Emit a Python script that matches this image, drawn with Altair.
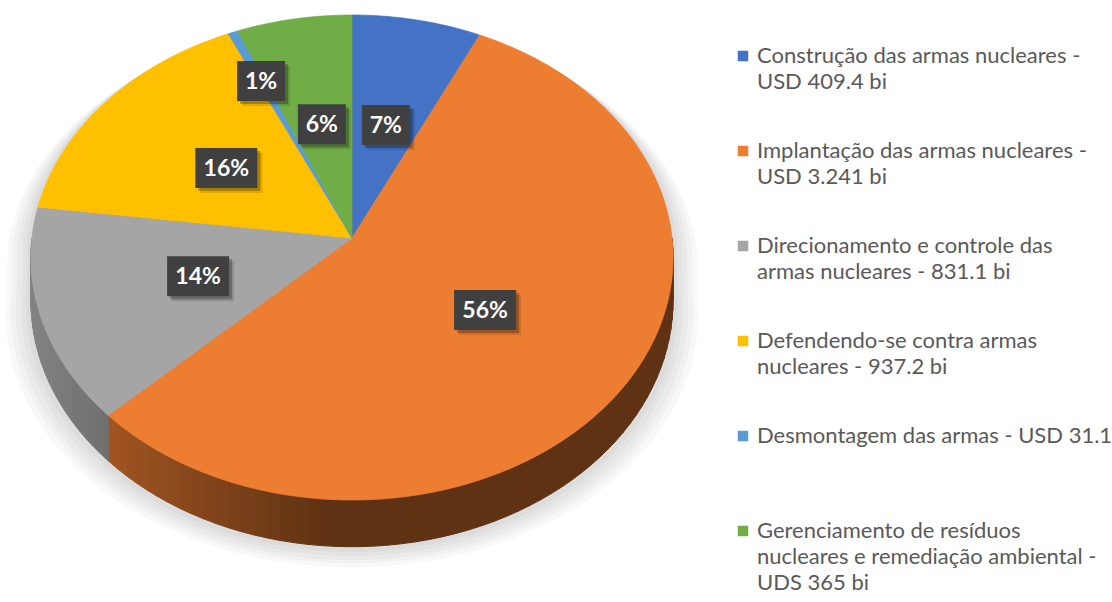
import altair as alt
import pandas as pd

# ---------------- data ----------------
legend_labels = [
    "Construção das armas nucleares -\nUSD 409.4 bi",
    "Implantação das armas nucleares -\nUSD 3.241 bi",
    "Direcionamento e controle das\narmas nucleares - 831.1 bi",
    "Defendendo-se contra armas\nnucleares - 937.2 bi",
    "Desmontagem das armas - USD 31.1",
    "Gerenciamento de resíduos\nnucleares e remediação ambiental -\nUDS 365 bi",
]
values = [409.4, 3241.0, 831.1, 937.2, 31.1, 365.0]
colors = ["#4472C4", "#ED7D31", "#A5A5A5", "#FFC000", "#5B9BD5", "#70AD47"]

# ---------------- layout / style ----------------
W, H = 1112, 602
CX, CY, RX, RY, P, DEPTH = 352, 238, 320, 240.9, 0.0804, 43
N = 120   # arc resolution of each top slice
M = 60    # rim pieces per slice
LY0, LDY = 63, 95  # legend first baseline and spacing
FONT = "Lato"

df = pd.DataFrame({
    "cat": legend_labels,
    "value": values,
    "idx": list(range(len(values))),
    "col": colors,
})

xs = alt.Scale(domain=[0, W], range=[0, W])
ys = alt.Scale(domain=[0, H], range=[0, H])
X = lambda f: alt.X(f, type="quantitative", scale=xs, axis=None)
Y = lambda f: alt.Y(f, type="quantitative", scale=ys, axis=None)


def project(a, r="1", dep="0", ex=0, ey=0, oy=0):
    u = f"(({r})*sin({a}))"
    w = f"(-({r})*cos({a}))"
    s = f"(1/(1-{P}*{w}))"
    px = f"{CX}+{RX + ex}*{u}*{s}"
    py = f"{CY + oy}+({RY + ey}*{w}+({dep}))*{s}"
    return px, py


base = alt.Chart(df).transform_joinaggregate(
    total="sum(value)"
).transform_window(
    cum="sum(value)", sort=[alt.SortField("idx")], frame=[None, 0]
).transform_calculate(
    a0="2*PI*(datum.cum-datum.value)/datum.total",
    a1="2*PI*datum.cum/datum.total",
    pct="datum.value/datum.total",
)

# ---------------- soft shadow ----------------
shadows = []
for ex, ey, oy, op in [(25, 6, 14, 0.05), (20, 5, 11, 0.05), (15, 4, 9, 0.055),
                       (10, 3, 6, 0.06), (5, 2, 3, 0.07)]:
    spx, spy = project("datum.a", "1", f"(datum.w0>0?{DEPTH}:0)", ex, ey, oy)
    shadows.append(
        alt.Chart(alt.sequence(0, 361, as_="k"))
        .transform_calculate(a="2*PI*datum.k/360")
        .transform_calculate(w0="-cos(datum.a)")
        .transform_calculate(px=spx, py=spy)
        .mark_line(filled=True, interpolate="linear-closed", color="#7a7a7a",
                   opacity=op, strokeWidth=0)
        .encode(x=X("px"), y=Y("py"), order="k:Q")
    )

# ---------------- rim (side of the 3D pie) ----------------
rpx, rpy = project("datum.a", "1", "datum.dep")
rim = base.transform_calculate(
    lo="max(datum.a0, PI/2)", hi="min(datum.a1, 3*PI/2)"
).transform_filter("datum.hi > datum.lo").transform_calculate(
    k=f"sequence(0,{M})"
).transform_flatten(["k"]).transform_calculate(
    c="sequence(0,4)"
).transform_flatten(["c"]).transform_calculate(
    a=f"datum.lo+(datum.hi-datum.lo)*(datum.k+((datum.c==1||datum.c==2)?1:0))/{M}",
    dep=f"(datum.c>=2)?{DEPTH}:0",
    am=f"datum.lo+(datum.hi-datum.lo)*(datum.k+0.5)/{M}",
).transform_calculate(
    shade="0.40+0.43*max(0,-sin(datum.am)-0.07)"
).transform_calculate(
    rc="'rgb('+round(rgb(datum.col).r*datum.shade)+','+round(rgb(datum.col).g*datum.shade)+','+round(rgb(datum.col).b*datum.shade)+')'",
    px=rpx, py=rpy,
).mark_line(filled=True, interpolate="linear-closed", strokeWidth=1).encode(
    x=X("px"), y=Y("py"), order="c:Q",
    fill=alt.Fill("rc:N", scale=None),
    stroke=alt.Stroke("rc:N", scale=None),
    detail=["idx:N", "k:Q"],
)

# ---------------- top face ----------------
tpx, tpy = project("datum.a", "datum.r")
top = base.transform_calculate(
    k=f"sequence(0,{N + 2})"
).transform_flatten(["k"]).transform_calculate(
    r="datum.k==0?0:1",
    a=f"datum.a0+(datum.a1-datum.a0)*max(datum.k-1,0)/{N}",
).transform_calculate(px=tpx, py=tpy).mark_line(
    filled=True, interpolate="linear-closed", strokeWidth=0.8
).encode(
    x=X("px"), y=Y("py"), order="k:Q",
    fill=alt.Fill("col:N", scale=None),
    stroke=alt.Stroke("col:N", scale=None),
    detail="idx:N",
)

# ---------------- data labels ----------------
lpx, lpy = project("datum.am", "datum.rl")
lab = base.transform_calculate(
    am="(datum.a0+datum.a1)/2",
    rl="datum.pct<0.02?0.75:0.5",
    txt="format(datum.pct,'.0%')",
).transform_calculate(lx=lpx, ly=lpy).transform_calculate(
    hw="10+7*length(datum.txt)"
).transform_calculate(
    bx1="datum.lx-datum.hw", bx2="datum.lx+datum.hw",
    by1="datum.ly-20", by2="datum.ly+20",
)

box_shadows = []
for dx, dy, op in [(5, 5, 0.12), (3, 3, 0.25)]:
    box_shadows.append(
        lab.transform_calculate(
            sx1=f"datum.bx1+{dx}", sx2=f"datum.bx2+{dx}",
            sy1=f"datum.by1+{dy}", sy2=f"datum.by2+{dy}",
        ).mark_rect(color="#000000", opacity=op).encode(
            x=X("sx1"), x2="sx2:Q", y=Y("sy1"), y2="sy2:Q"
        )
    )
boxes = lab.mark_rect(color="#404040").encode(
    x=X("bx1"), x2="bx2:Q", y=Y("by1"), y2="by2:Q"
)
texts = lab.mark_text(
    font=FONT, fontWeight="bold", fontSize=23, color="#ffffff",
    align="center", baseline="middle", dy=1,
).encode(x=X("lx"), y=Y("ly"), text="txt:N")

# ---------------- legend ----------------
leg = alt.Chart(df).transform_calculate(
    ty=f"{LY0}+datum.idx*{LDY}", sy=f"{LY0 - 7}+datum.idx*{LDY}"
)
squares = leg.mark_square(size=110, opacity=1).encode(
    x=alt.value(743), y=Y("sy"), color=alt.Color("col:N", scale=None)
)
legtext = leg.mark_text(
    align="left", baseline="alphabetic", lineBreak="\n", lineHeight=26,
    fontSize=22, font=FONT, color="#595959",
).encode(x=alt.value(757), y=Y("ty"), text="cat:N")

chart = alt.layer(
    *shadows, rim, top, *box_shadows, boxes, texts, squares, legtext
).properties(
    width=W, height=H, padding=0, background="#ffffff",
    autosize=alt.AutoSizeParams(type="none"),
).configure_view(stroke=None)

chart.save("out.html", embed_options={"renderer": "svg", "actions": False})
